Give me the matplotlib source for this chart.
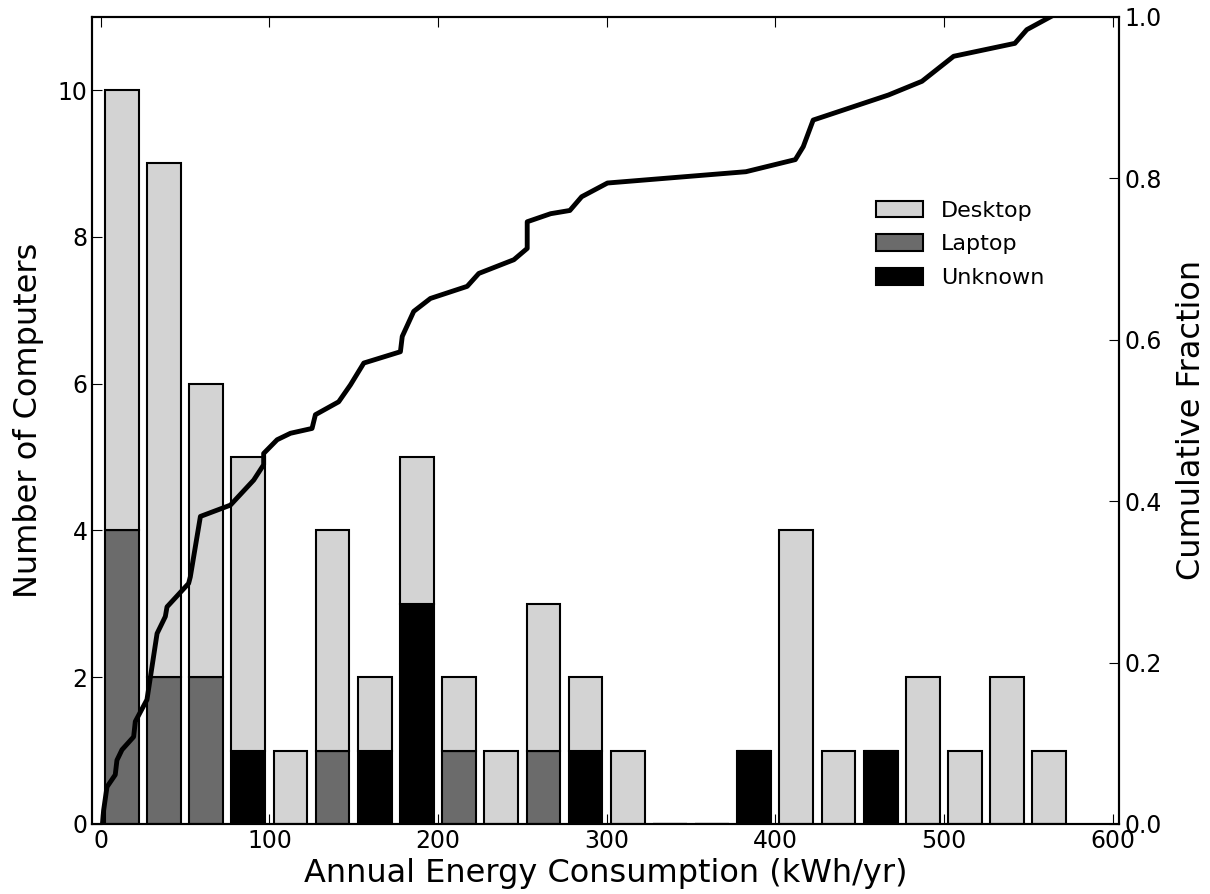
import matplotlib
matplotlib.use('Agg')
import matplotlib.pyplot as plt
import numpy as np

# histogram counts per 25 kWh/yr bin (0-25, 25-50, ... 550-575)
bin_width = 25
desktop = [6, 7, 4, 4, 1, 3, 1, 2, 1, 1, 2, 1, 1, 0, 0, 0, 4, 1, 0, 2, 1, 2, 1]
laptop = [4, 2, 2, 0, 0, 1, 0, 0, 1, 0, 1, 0, 0, 0, 0, 0, 0, 0, 0, 0, 0, 0, 0]
unknown = [0, 0, 0, 1, 0, 0, 1, 3, 0, 0, 0, 1, 0, 0, 0, 1, 0, 0, 1, 0, 0, 0, 0]

# cumulative fraction curve
cum_x = [1, 1.7, 3.7, 8.6, 9.6, 12.6, 19.5, 20.5, 27.4, 33.4, 38.3, 39.3, 52.1, 53.1,
         59.1, 76.9, 90.7, 96.6, 96.6, 104.6, 112.5, 125.3, 127.3, 141.1, 148.1, 156.0,
         177.7, 178.8, 185.6, 195.5, 217.3, 224.2, 245.0, 252.9, 252.9, 266.8, 278.2,
         285.2, 300.5, 382.6, 411.9, 416.6, 422.5, 467.1, 487.0, 505.8, 542.1, 549.2, 563.3]
cum_y = [0.0, 0.017, 0.046, 0.061, 0.079, 0.092, 0.108, 0.127, 0.154, 0.236, 0.257, 0.269,
         0.298, 0.306, 0.381, 0.395, 0.426, 0.445, 0.459, 0.476, 0.484, 0.490, 0.507, 0.523,
         0.544, 0.571, 0.585, 0.604, 0.635, 0.651, 0.666, 0.682, 0.699, 0.713, 0.746, 0.756,
         0.760, 0.777, 0.794, 0.808, 0.823, 0.839, 0.872, 0.903, 0.920, 0.951, 0.967, 0.984, 1.0]

centers = np.arange(len(desktop)) * bin_width + bin_width / 2
desktop = np.array(desktop)
laptop = np.array(laptop)
unknown = np.array(unknown)

fig = plt.figure(figsize=(12.1, 8.94), dpi=100)
ax = fig.add_axes([0.0763, 0.0783, 0.8487, 0.903])

ax.bar(centers, laptop, width=20, color='#6b6b6b', edgecolor='black', linewidth=1.5, label='Laptop')
ax.bar(centers, unknown, width=20, bottom=laptop, color='black', edgecolor='black', linewidth=1.5, label='Unknown')
ax.bar(centers, desktop, width=20, bottom=laptop + unknown, color='#d3d3d3', edgecolor='black',
       linewidth=1.5, label='Desktop')

ax.set_xlim(-5, 604)
ax.set_ylim(0, 11)
ax.set_xticks([0, 100, 200, 300, 400, 500, 600])
ax.set_yticks([0, 2, 4, 6, 8, 10])
ax.tick_params(direction='in', length=7, labelsize=17, top=True)
ax.set_xlabel('Annual Energy Consumption (kWh/yr)', fontsize=23, labelpad=4)
ax.set_ylabel('Number of Computers', fontsize=23, labelpad=10)

handles, labels = ax.get_legend_handles_labels()
order = [2, 0, 1]
ax.legend([handles[i] for i in order], [labels[i] for i in order], frameon=False, fontsize=16,
          loc='upper left', bbox_to_anchor=(0.744, 0.797), handlelength=2.1, handleheight=0.75,
          labelspacing=0.62)

ax2 = ax.twinx()
ax2.plot(cum_x, cum_y, color='black', linewidth=3.5)
ax2.set_ylim(0, 1)
ax2.set_yticks([0.0, 0.2, 0.4, 0.6, 0.8, 1.0])
ax2.tick_params(direction='in', length=7, labelsize=17)
ax2.set_ylabel('Cumulative Fraction', fontsize=23, labelpad=10)

for a in (ax, ax2):
    for s in a.spines.values():
        s.set_linewidth(1.5)

fig.savefig('out.png', dpi=100)
